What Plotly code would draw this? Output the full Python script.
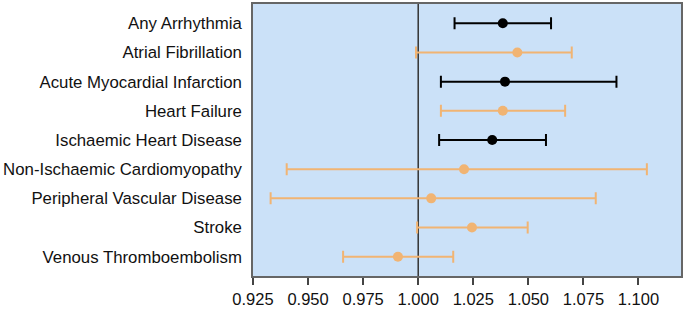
import plotly.graph_objects as go

categories = ["Any Arrhythmia", "Atrial Fibrillation", "Acute Myocardial Infarction",
              "Heart Failure", "Ischaemic Heart Disease", "Non-Ischaemic Cardiomyopathy",
              "Peripheral Vascular Disease", "Stroke", "Venous Thromboembolism"]
estimate = [1.0384, 1.0450, 1.0394, 1.0384, 1.0336, 1.0208, 1.0059, 1.0244, 0.9908]
lower = [1.0165, 0.9990, 1.0103, 1.0103, 1.0095, 0.9403, 0.9330, 0.9995, 0.9659]
upper = [1.0603, 1.0697, 1.0900, 1.0667, 1.0580, 1.1038, 1.0806, 1.0497, 1.0159]
significant = [True, False, True, False, True, False, False, False, False]
tick_vals = [0.925, 0.950, 0.975, 1.000, 1.025, 1.050, 1.075, 1.100]

BLACK = "#000000"
ORANGE = "#f1b473"

fig = go.Figure()
for sig, color in [(True, BLACK), (False, ORANGE)]:
    idx = [i for i, s in enumerate(significant) if s == sig]
    fig.add_trace(go.Scatter(
        x=[estimate[i] for i in idx],
        y=[categories[i] for i in idx],
        mode="markers",
        marker=dict(color=color, size=10),
        error_x=dict(type="data", symmetric=False,
                     array=[upper[i] - estimate[i] for i in idx],
                     arrayminus=[estimate[i] - lower[i] for i in idx],
                     color=color, thickness=2, width=6),
        showlegend=False,
        hoverinfo="skip",
    ))

fig.add_shape(type="line", x0=1.0, x1=1.0, y0=0, y1=1, yref="paper",
              line=dict(color="#333333", width=1.5), layer="below")

fig.update_layout(
    width=685, height=309,
    margin=dict(l=253, r=4, t=4, b=33),
    plot_bgcolor="#cbe1f8",
    paper_bgcolor="white",
    font=dict(family="Liberation Sans, Arial, sans-serif", size=17, color="#111111"),
)
fig.update_xaxes(range=[0.925, 1.1193], tickvals=tick_vals,
                 ticktext=[f"{v:.3f}" for v in tick_vals],
                 showgrid=False, zeroline=False, ticks="outside", ticklen=7,
                 tickcolor="#444444", tickwidth=1.5, showline=True, linecolor="#666666",
                 linewidth=1.5, mirror=True, tickfont=dict(size=16.5), automargin=False)
fig.update_yaxes(categoryorder="array", categoryarray=categories,
                 range=[8.66, -0.66], showgrid=False, zeroline=False,
                 showline=True, linecolor="#666666", linewidth=1.5, mirror=True,
                 ticks="", ticklabelstandoff=6, tickfont=dict(size=16.8), automargin=False)

fig.write_html("out.html", config={"displayModeBar": False},
               post_script="document.body.style.margin='0px';")
